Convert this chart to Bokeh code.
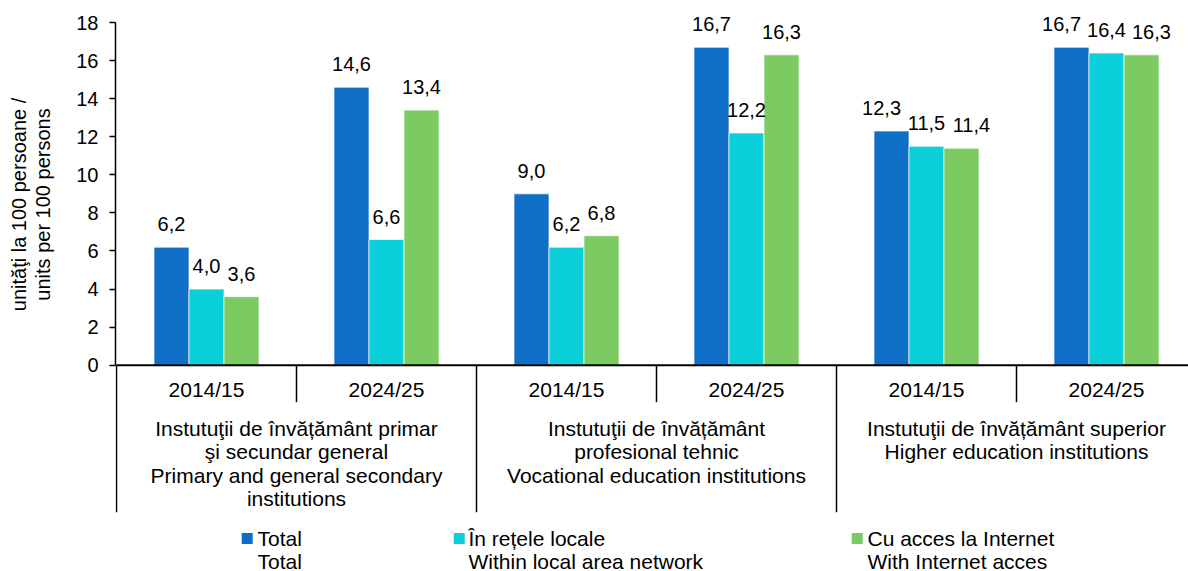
import math
from bokeh.plotting import figure
from bokeh.models import Range1d, FixedTicker, ColumnDataSource, Title
from bokeh.core.properties import value
from bokeh.embed import file_html
from bokeh.resources import INLINE

# ---------------- data ----------------
years = ["2014/15", "2024/25", "2014/15", "2024/25", "2014/15", "2024/25"]
group_labels = [
    ["Instutuţii de învățământ primar", "şi secundar general",
     "Primary and general secondary", "institutions"],
    ["Instutuţii de învățământ", "profesional tehnic",
     "Vocational education institutions"],
    ["Instutuţii de învățământ superior", "Higher education institutions"],
]
years_per_group = 2
total = [6.2, 14.6, 9.0, 16.7, 12.3, 16.7]
lan = [4.0, 6.6, 6.2, 12.2, 11.5, 16.4]
internet = [3.6, 13.4, 6.8, 16.3, 11.4, 16.3]
series_values = [total, lan, internet]
series_names = [("Total", "Total"),
                ("În rețele locale", "Within local area network"),
                ("Cu acces la Internet", "With Internet acces")]
series_colors = ["#0F6FC6", "#0BD0D9", "#7CCA62"]
y_ticks = [0, 2, 4, 6, 8, 10, 12, 14, 16, 18]
y_title = ["unităţi la 100 persoane /", "units per 100 persons"]

# ---------------- layout helpers (page pixels -> data) ----------------
FONT = "Liberation Sans"
FS = "20px"
FS_CAT = "21px"
W, H = 1188, 571
X0 = 116.0          # page x of slot 0
SX = 180.0          # px per category slot
Y0 = 364.7          # page y of value 0
TOP = 22.0          # page y of value 18
SY = (Y0 - TOP) / 18.0
BFIX = 7.0          # renderer places alphabetic baseline this much lower

CW = {c: 0.556 for c in "abdeghnopquăâ0123456789"}
CW.update({c: 0.5 for c in "cksvxyz"})
CW.update({c: 0.278 for c in "ftţț /,."})
CW.update({c: 0.222 for c in "ijl"})
CW.update({"m": 0.833, "r": 0.333, "w": 0.722})


def text_w(s, size=20.0):
    return sum(CW.get(c, 0.556) for c in s) * size


def dx(px):
    return (px - X0) / SX


def dy(py):
    return (Y0 - py) / SY


def tb(py):
    """data y for a text whose baseline should sit at page y py"""
    return dy(py - BFIX)


p = figure(width=W, height=H,
           x_range=Range1d(dx(115), dx(W)),
           y_range=Range1d(dy(H), dy(0)),
           x_axis_location=None,
           output_backend="svg", toolbar_location=None,
           min_border_left=115, min_border_right=0,
           min_border_top=0, min_border_bottom=0)
p.outline_line_color = None
p.ygrid.visible = False
p.xgrid.visible = False

ax = p.yaxis[0]
ax.ticker = FixedTicker(ticks=y_ticks)
ax.bounds = (y_ticks[0], y_ticks[-1])
ax.axis_line_color = "black"
ax.axis_line_width = 1.5
ax.major_tick_line_color = "black"
ax.major_tick_line_width = 1.5
ax.major_tick_out = 6
ax.major_tick_in = 0
ax.minor_tick_line_color = None
ax.major_label_text_font = FONT
ax.major_label_text_font_size = FS
ax.major_label_text_color = "black"
ax.major_label_standoff = 11
# invisible spacer label to push the two title lines outward
ax.axis_label = " "
ax.axis_label_text_font_size = "1px"
ax.axis_label_standoff = 16

# ---------------- y axis title (two title lines on the left) ----------------
title_center_y = 204.0
for line in reversed(y_title):
    off = (H - title_center_y) - text_w(line) / 2.0
    p.add_layout(Title(text=line, align="left", offset=off,
                       standoff=0, text_font=FONT, text_font_size=FS,
                       text_font_style="normal", text_color="black"), "left")

# ---------------- bars ----------------
n = len(years)
bw = 35.0 / SX
offsets = [-bw, 0.0, bw]
centers = [i + 0.5 for i in range(n)]
for vals, col, off in zip(series_values, series_colors, offsets):
    src = ColumnDataSource(dict(x=[c + off for c in centers], top=vals))
    p.vbar(x="x", top="top", width=bw, bottom=0, source=src,
           fill_color=col, line_color="white", line_width=0.7)

# ---------------- data labels with simple collision avoidance ----------------
lab_x, lab_y, lab_t = [], [], []
for i in range(n):
    vals = [s[i] for s in series_values]
    txt = [f"{v:.1f}".replace(".", ",") for v in vals]
    xs = [centers[i] + o for o in offsets]
    for side in (0, 2):
        overlap = (text_w(txt[side]) + text_w(txt[1])) / 2 - 35.0
        if overlap > 0 and abs(vals[side] - vals[1]) * SY < 20:
            shift = (overlap + 6) / SX
            xs[side] += -shift if side == 0 else shift
    for k in range(3):
        lab_x.append(xs[k])
        lab_y.append(vals[k] + (16.0 + BFIX) / SY)
        lab_t.append(txt[k])
p.text(x=lab_x, y=lab_y, text=lab_t, text_align="center",
       text_baseline="alphabetic", text_font=value(FONT),
       text_font_size=value(FS), text_color="black")

# ---------------- category axis (drawn) ----------------
p.segment(x0=[0], y0=[0], x1=[n], y1=[0], line_color="black", line_width=2)
sep_x, sep_y1 = [], []
for b in range(n + 1):
    sep_x.append(b)
    sep_y1.append(dy(511.7) if b % years_per_group == 0 else dy(401.7))
p.segment(x0=sep_x, y0=[0] * len(sep_x), x1=sep_x, y1=sep_y1,
          line_color="black", line_width=1.5)

p.text(x=centers, y=[tb(395.7)] * n, text=years, text_align="center",
       text_baseline="alphabetic", text_font=value(FONT),
       text_font_size=value(FS_CAT), text_color="black")

gx, gy, gt = [], [], []
for g, lines in enumerate(group_labels):
    for k, line in enumerate(lines):
        gx.append(g * years_per_group + years_per_group / 2)
        gy.append(tb(435.0 + k * 23.4))
        gt.append(line)
p.text(x=gx, y=gy, text=gt, text_align="center", text_baseline="alphabetic",
       text_font=value(FONT), text_font_size=value(FS_CAT), text_color="black")

# ---------------- legend (drawn) ----------------
leg_marker_px = [246.7, 458.7, 856.7]
leg_text_px = [257.0, 468.0, 867.0]
p.scatter(x=[dx(v) for v in leg_marker_px], y=[dy(538.0)] * 3, marker="square",
          size=11, fill_color=series_colors, line_color=None)
lx, ly, lt = [], [], []
for (l1, l2), tx in zip(series_names, leg_text_px):
    lx += [dx(tx), dx(tx)]
    ly += [tb(544.5), tb(567.5)]
    lt += [l1, l2]
p.text(x=lx, y=ly, text=lt, text_align="left", text_baseline="alphabetic",
       text_font=value(FONT), text_font_size=value(FS_CAT), text_color="black")

open("out.html", "w").write(file_html(p, INLINE))
